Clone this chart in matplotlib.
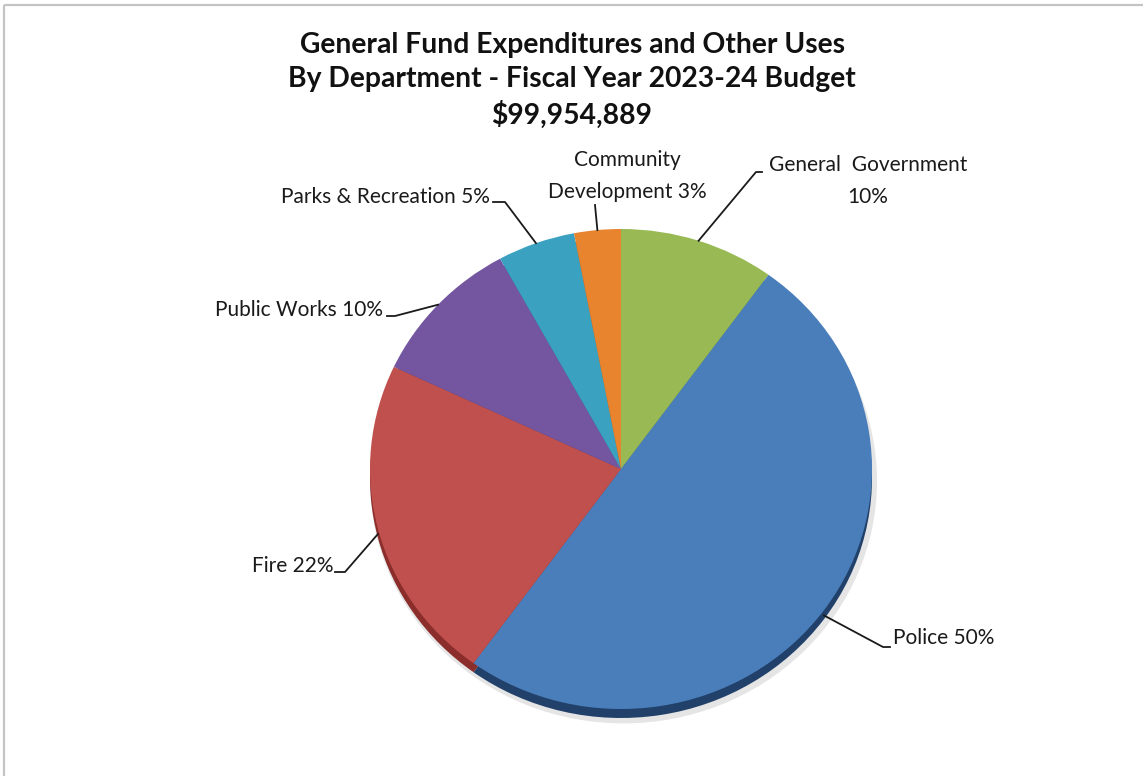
import numpy as np
import matplotlib.pyplot as plt

# General fund budget by department, FY 2023-24
departments = ["General Government", "Police", "Fire", "Public Works",
               "Parks & Recreation", "Community Development"]
shares = [10, 50, 22, 10, 5, 3]
label_text = ["General  Government\n10%", "Police 50%", "Fire 22%",
              "Public Works 10%", "Parks & Recreation 5%",
              "Community\nDevelopment 3%"]
face_colors = ["#98b954", "#4a7ebb", "#c0504d", "#7456a0", "#3ba1c1", "#e8832e"]
side_colors = ["#6b8a35", "#21416a", "#8a2d2b", "#4c3670", "#25748e", "#a85a1c"]

title_lines = ["General Fund Expenditures and Other Uses",
               "By Department - Fiscal Year 2023-24 Budget",
               "$99,954,889"]

W, H, DPI = 1143, 776, 100
cx, cy = 621, 469          # pie centre in pixels
rx, ry = 251, 240          # pie radii in pixels
depth = 9                  # thickness of the pie rim

plt.rcParams['font.family'] = ['Lato', 'DejaVu Sans']

fig = plt.figure(figsize=(W / DPI, H / DPI), dpi=DPI)
fig.patch.set_facecolor("white")

# pie axes: unit circle maps onto the ellipse (rx, ry) around (cx, cy)
pax = fig.add_axes([0, 0, 1, 1])
start = 90
# soft shadow under the pie
pax.pie([1], colors=["#000000"], center=(0.01, -(depth + 3) / ry), radius=1.01,
        wedgeprops=dict(linewidth=0, alpha=0.10))
pax.pie(shares, colors=side_colors, startangle=start, counterclock=False,
        center=(0, -depth / ry), radius=1.0,
        wedgeprops=dict(linewidth=0))
pax.pie(shares, colors=face_colors, startangle=start, counterclock=False,
        center=(0, 0), radius=1.0,
        wedgeprops=dict(linewidth=0))
pax.set_aspect("auto")
pax.set_xlim(-cx / rx, (W - cx) / rx)
pax.set_ylim((cy - H) / ry, cy / ry)
pax.axis("off")

# overlay in pixel coordinates for titles, labels and leader lines
ax = fig.add_axes([0, 0, 1, 1])
ax.set_xlim(0, W)
ax.set_ylim(H, 0)
ax.axis("off")
ax.patch.set_alpha(0)

# frame lines on top and left
ax.plot([4, W], [5, 5], color="#c4c4c4", lw=1.6, solid_capstyle="butt")
ax.plot([4, 4], [5, H], color="#c4c4c4", lw=1.6, solid_capstyle="butt")

for line, y in zip(title_lines, [45, 79, 115]):
    ax.text(572, y, line, ha="center", va="center", fontsize=20.3,
            fontweight="bold", color="#111111")

# label layout: text anchor, alignment and leader elbow per slice
label_pos = [(868, 181, "center"), (893, 638, "left"), (333, 566, "right"),
             (383, 310, "right"), (490, 197, "right"), (627, 176, "center")]
elbows = [[(756, 172), (762, 172)], [(883, 647), (890, 647)],
          [(345, 572), (335, 572)], [(395, 316), (387, 316)],
          [(505, 202), (493, 202)], [(595, 205)]]

cum = np.cumsum([0] + shares)
total = float(sum(shares))
for i, name in enumerate(departments):
    mid = (cum[i] + cum[i + 1]) / 2 / total * 2 * np.pi
    ex = cx + rx * np.sin(mid)
    ey = cy - ry * np.cos(mid)
    if ey > cy:
        ey += depth * 0.6
    xs = [ex] + [p[0] for p in elbows[i]]
    ys = [ey] + [p[1] for p in elbows[i]]
    ax.plot(xs, ys, color="#1a1a1a", lw=1.3)
    tx, ty, ha = label_pos[i]
    ax.text(tx, ty, label_text[i], ha=ha, va="center", fontsize=15,
            color="#1a1a1a", linespacing=1.72)

fig.savefig("out.png", dpi=DPI)
